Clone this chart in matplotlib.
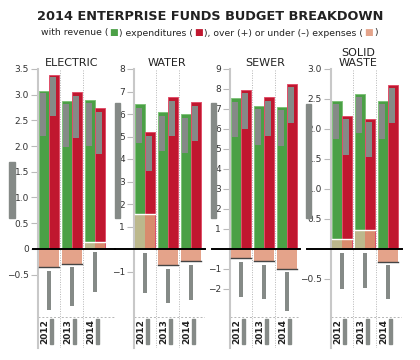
import numpy as np
import matplotlib
matplotlib.use('Agg')
from matplotlib import pyplot as plt
from matplotlib.patches import Rectangle

# data (values in $ millions)
panels = ['ELECTRIC', 'WATER', 'SEWER', 'SOLID\nWASTE']
years = ['2012', '2013', '2014']

revenue = [[3.07, 2.88, 2.89],
           [6.43, 6.07, 5.99],
           [7.53, 7.15, 7.12],
           [2.46, 2.58, 2.46]]
expenditures = [[3.39, 3.05, 2.74],
                [5.21, 6.74, 6.52],
                [7.95, 7.58, 8.25],
                [2.21, 2.17, 2.74]]
over_under = [[-0.35, -0.29, 0.14],
              [1.56, -0.71, -0.53],
              [-0.47, -0.60, -1.00],
              [0.17, 0.31, -0.21]]

# grey "ghost" rectangles seen in the picture (top, bottom)
rev_ghost = [[(3.03, 2.19), (2.82, 1.99), (2.83, 2.00)],
             [(6.25, 4.70), (5.91, 4.36), (5.84, 4.28)],
             [(7.37, 5.59), (6.98, 5.20), (6.95, 5.17)],
             [(2.41, 1.83), (2.53, 1.94), (2.41, 1.83)]]
exp_ghost = [[(3.34, 2.59), (2.98, 2.15), (2.67, 1.84)],
             [(5.04, 3.48), (6.59, 5.02), (6.37, 4.80)],
             [(7.78, 5.98), (7.42, 5.65), (8.08, 6.32)],
             [(2.16, 1.57), (2.12, 1.53), (2.69, 2.10)]]
low_ghost = [[(-0.43, -1.19), (-0.36, -1.12), (-0.06, -0.84)],
             [(-0.16, -1.94), (-0.89, -2.41), (-0.71, -2.27)],
             [(-0.67, -2.38), (-0.80, -2.52), (-1.17, -3.10)],
             [(-0.07, -0.66), (-0.06, -0.65), (-0.27, -0.84)]]
side_ghost = [(1.69, 0.60), (6.49, 1.38), (7.30, 1.55), (2.42, 0.52)]

yticks = [[3.5, 3.0, 2.5, 2.0, 1.5, 1.0, 0.5, 0, -0.5],
          [8, 7, 6, 5, 4, 3, 2, 1, -1],
          [9, 8, 7, 6, 5, 4, 3, 2, 1, -1, -2],
          [3.0, 2.5, 2.0, 1.5, 1.0, 0.5, -0.5]]
ytick_fmt = ['{:.1f}', '{:g}', '{:g}', '{:.1f}']

GREEN = '#4ba046'
RED = '#c0172f'
SALMON = '#e4a38a'
KHAKI = '#bcb88c'
SALMON_RED = '#d98b6d'
GREY = '#858a87'

# layout in pixels (figure 420x360)
W, H = 420, 360
GROUP_PX = 23.0
AX_TOP, AX_BOT = 69, 348
ax_px = [(38, 115, 51.4, 5), (134, 205, 22.5, 19), (230, 300, 20.0, 18), (331, 402, 60.0, 24)]
title_px = [72, 167, 265, 358]
side_px = [(9, 15), (115, 120), (211, 216), (306, 311)]

fig = plt.figure(figsize=(4.2, 3.6), dpi=100)

for p, name in enumerate(panels):
    left, right, ppu, zext = ax_px[p]
    ax = fig.add_axes([left / W, (H - AX_BOT) / H, (right - left) / W, (AX_BOT - AX_TOP) / H])
    xmax = (right - left) / GROUP_PX
    ytop = yticks[p][0]
    ybot = ytop - (AX_BOT - AX_TOP) / ppu
    x = np.arange(len(years))

    ax.bar(x + 0.05, revenue[p], width=0.42, align='edge', color=GREEN,
           edgecolor='#7fc27a', linewidth=0.7, zorder=2)
    ax.bar(x + 0.49, expenditures[p], width=0.42, align='edge', color=RED,
           edgecolor='#e0506a', linewidth=0.7, zorder=2)

    rg = np.array(rev_ghost[p])
    eg = np.array(exp_ghost[p])
    lg = np.array(low_ghost[p])
    ax.bar(x + 0.10, rg[:, 0] - rg[:, 1], bottom=rg[:, 1], width=0.25, align='edge',
           color=GREY, zorder=3)
    ax.bar(x + 0.53, eg[:, 0] - eg[:, 1], bottom=eg[:, 1], width=0.25, align='edge',
           color=GREY, zorder=3)
    ax.bar(x + 0.37, lg[:, 0] - lg[:, 1], bottom=lg[:, 1], width=0.20, align='edge',
           color=GREY, zorder=3)

    # over / under
    for i, v in enumerate(over_under[p]):
        if v >= 0:
            ax.bar(i + 0.05, v, width=0.44, align='edge', color=KHAKI, zorder=4)
            ax.bar(i + 0.49, v, width=0.42, align='edge', color=SALMON_RED, zorder=4)
            ax.plot([i + 0.05, i + 0.91], [v, v], color='white', lw=1, zorder=5)
        else:
            ax.bar(i + 0.05, v, width=0.86, align='edge', color=SALMON, zorder=4)
            ax.plot([i + 0.05, i + 0.91], [v, v], color='#444444', lw=1, zorder=5)

    # side ghost bar
    st, sb = side_ghost[p]
    sx0 = (side_px[p][0] - left) / GROUP_PX
    sx1 = (side_px[p][1] - left) / GROUP_PX
    ax.add_patch(Rectangle((sx0, sb), sx1 - sx0, st - sb, color=GREY, clip_on=False, zorder=3))

    ax.plot([-zext / GROUP_PX, xmax], [0, 0], color='black', lw=1.4, clip_on=False, zorder=6)

    for s in [0.96, 1.96]:
        ax.axvline(s, color='#b5b5b5', lw=0.7, ls=(0, (1, 1.5)), zorder=1)

    # year strip at the bottom
    tr = ax.get_xaxis_transform()
    ax.plot([0, xmax], [0.111, 0.111], color='#b5b5b5', lw=0.7, ls=(0, (2, 2)), transform=tr)
    for i, yr in enumerate(years):
        ax.text(i + 0.3, 0.059, yr, rotation=90, ha='center', va='center', fontsize=6.5,
                fontweight='bold', color='#222222', transform=tr)
        ax.add_patch(Rectangle((i + 0.52, 0.014), 0.15, 0.09, color=GREY, transform=tr, zorder=3))

    ax.set_xlim(0, xmax)
    ax.set_ylim(ybot, ytop)
    ticks = [t for t in yticks[p] if not (t == 0 and p > 0)]
    ax.set_yticks(ticks)
    ax.set_yticklabels([ytick_fmt[p].format(t).replace('-', '\u2212') if t != 0 else '0' for t in ticks])
    ax.tick_params(axis='y', length=5, width=0.8, color='#bbbbbb', labelsize=6.5,
                   labelcolor='#333333', pad=1.5)
    ax.tick_params(axis='x', bottom=False, labelbottom=False)
    for side in ['top', 'right', 'bottom']:
        ax.spines[side].set_visible(False)
    ax.spines['left'].set_color('#c8c8c8')
    ax.spines['left'].set_linewidth(1.5)

    fig.text(title_px[p] / W, 1 - 68 / H, name, ha='center', va='bottom', fontsize=8,
             color='#222222', linespacing=0.95)

fig.text(0.5, 1 - 17 / H, '2014 ENTERPRISE FUNDS BUDGET BREAKDOWN', ha='center', va='center',
         fontsize=9.3, fontweight='bold', color='#222222')

# subtitle with coloured squares
pieces = [('with revenue (', '#222222'), ('\u25a0', GREEN), (') expenditures (', '#222222'),
          ('\u25a0', RED), ('), over (+) or under (\u2013) expenses (', '#222222'),
          ('\u25a0', SALMON), (')', '#222222')]
renderer = fig.canvas.get_renderer()
texts = [fig.text(0, 1 - 33 / H, s, color=c, fontsize=6.7, ha='left', va='center') for s, c in pieces]
widths = [t.get_window_extent(renderer).width + 1.2 for t in texts]
xpos = (fig.bbox.width - sum(widths)) / 2
for t, w in zip(texts, widths):
    t.set_x(xpos / fig.bbox.width)
    xpos += w

fig.savefig('out.png', dpi=100)
